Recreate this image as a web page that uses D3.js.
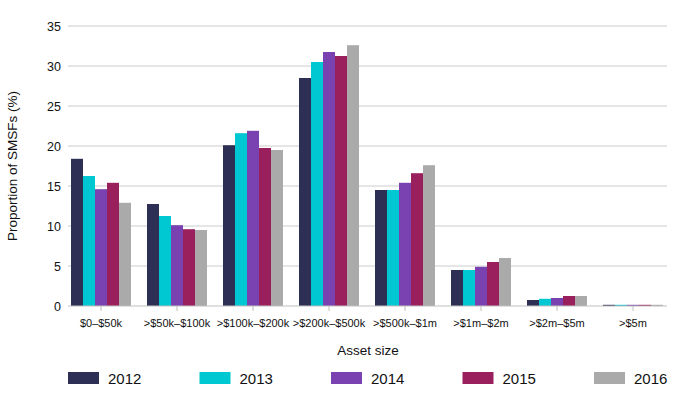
<!DOCTYPE html>
<html>
<head>
<meta charset="utf-8">
<script src="https://cdn.jsdelivr.net/npm/d3@7"></script>
<style>
  body { margin: 0; background: #fff; }
  svg { font-family: "Liberation Sans", Arial, sans-serif; }
</style>
</head>
<body>
<svg id="chart" width="689" height="404"></svg>
<script>
// data
const categories = ['$0\u2013$50k', '>$50k\u2013$100k', '>$100k\u2013$200k', '>$200k\u2013$500k',
                    '>$500k\u2013$1m', '>$1m\u2013$2m', '>$2m\u2013$5m', '>$5m'];
const years = ['2012', '2013', '2014', '2015', '2016'];
const v2012 = [18.4, 12.75, 20.1, 28.5, 14.5, 4.5, 0.75, 0.15];
const v2013 = [16.25, 11.25, 21.6, 30.5, 14.5, 4.5, 0.9, 0.15];
const v2014 = [14.6, 10.1, 21.9, 31.75, 15.4, 4.9, 1.0, 0.15];
const v2015 = [15.4, 9.6, 19.75, 31.25, 16.6, 5.5, 1.25, 0.15];
const v2016 = [12.9, 9.5, 19.5, 32.6, 17.6, 6.0, 1.25, 0.15];
const series = [v2012, v2013, v2014, v2015, v2016];
const colors = ['#2d3054', '#00c8d2', '#7a42b0', '#9a205d', '#aaaaaa'];
const yTicks = [0, 5, 10, 15, 20, 25, 30, 35];

const svg = d3.select('#chart');

const plotLeft = 68, plotRight = 667;
const x = d3.scaleBand().domain(categories).range([63, 671]).paddingInner(0).paddingOuter(0);
const y = d3.scaleLinear().domain([0, 35]).range([306, 26]);
const xi = d3.scaleBand().domain(years).range([0, 60]);

// gridlines
svg.append('g').selectAll('line')
  .data(yTicks.filter(d => d > 0))
  .enter().append('line')
  .attr('x1', plotLeft).attr('x2', plotRight)
  .attr('y1', d => y(d)).attr('y2', d => y(d))
  .attr('stroke', '#cccccc').attr('stroke-width', 1);

// bars
const groups = svg.append('g').selectAll('g')
  .data(categories)
  .enter().append('g')
  .attr('transform', d => `translate(${x(d) + x.bandwidth() / 2 - 30},0)`);

groups.selectAll('rect')
  .data((c, i) => series.map((s, j) => ({ year: years[j], v: s[i], col: colors[j] })))
  .enter().append('rect')
  .attr('x', d => xi(d.year))
  .attr('width', xi.bandwidth())
  .attr('y', d => y(d.v))
  .attr('height', d => y(0) - y(d.v))
  .attr('fill', d => d.col);

// baseline + ticks
svg.append('line')
  .attr('x1', plotLeft).attr('x2', plotRight)
  .attr('y1', y(0)).attr('y2', y(0))
  .attr('stroke', '#bfbfbf').attr('stroke-width', 1);

svg.append('g').selectAll('line')
  .data(categories)
  .enter().append('line')
  .attr('x1', d => x(d) + x.bandwidth() / 2).attr('x2', d => x(d) + x.bandwidth() / 2)
  .attr('y1', y(0)).attr('y2', y(0) + 5)
  .attr('stroke', '#bfbfbf');

// x labels
svg.append('g').selectAll('text')
  .data(categories)
  .enter().append('text')
  .attr('x', d => x(d) + x.bandwidth() / 2)
  .attr('y', 327)
  .attr('text-anchor', 'middle')
  .style('font-size', '11px')
  .attr('fill', '#111')
  .text(d => d);

// y labels
svg.append('g').selectAll('text')
  .data(yTicks)
  .enter().append('text')
  .attr('x', 61)
  .attr('y', d => y(d) + 4.5)
  .attr('text-anchor', 'end')
  .style('font-size', '12.5px')
  .attr('fill', '#111')
  .text(d => d);

// axis titles
svg.append('text')
  .attr('transform', 'translate(17,166) rotate(-90)')
  .attr('text-anchor', 'middle')
  .style('font-size', '13.5px')
  .attr('fill', '#111')
  .text('Proportion of SMSFs (%)');

svg.append('text')
  .attr('x', 368).attr('y', 355)
  .attr('text-anchor', 'middle')
  .style('font-size', '13.5px')
  .attr('fill', '#111')
  .text('Asset size');

// legend
const leg = svg.append('g').selectAll('g')
  .data(years)
  .enter().append('g')
  .attr('transform', (d, i) => `translate(${68 + i * 131.5},372)`);

leg.append('rect')
  .attr('width', 31).attr('height', 12)
  .attr('fill', (d, i) => colors[i]);

leg.append('text')
  .attr('x', 40).attr('y', 12)
  .style('font-size', '15px')
  .attr('fill', '#111')
  .text(d => d);
</script>
</body>
</html>
